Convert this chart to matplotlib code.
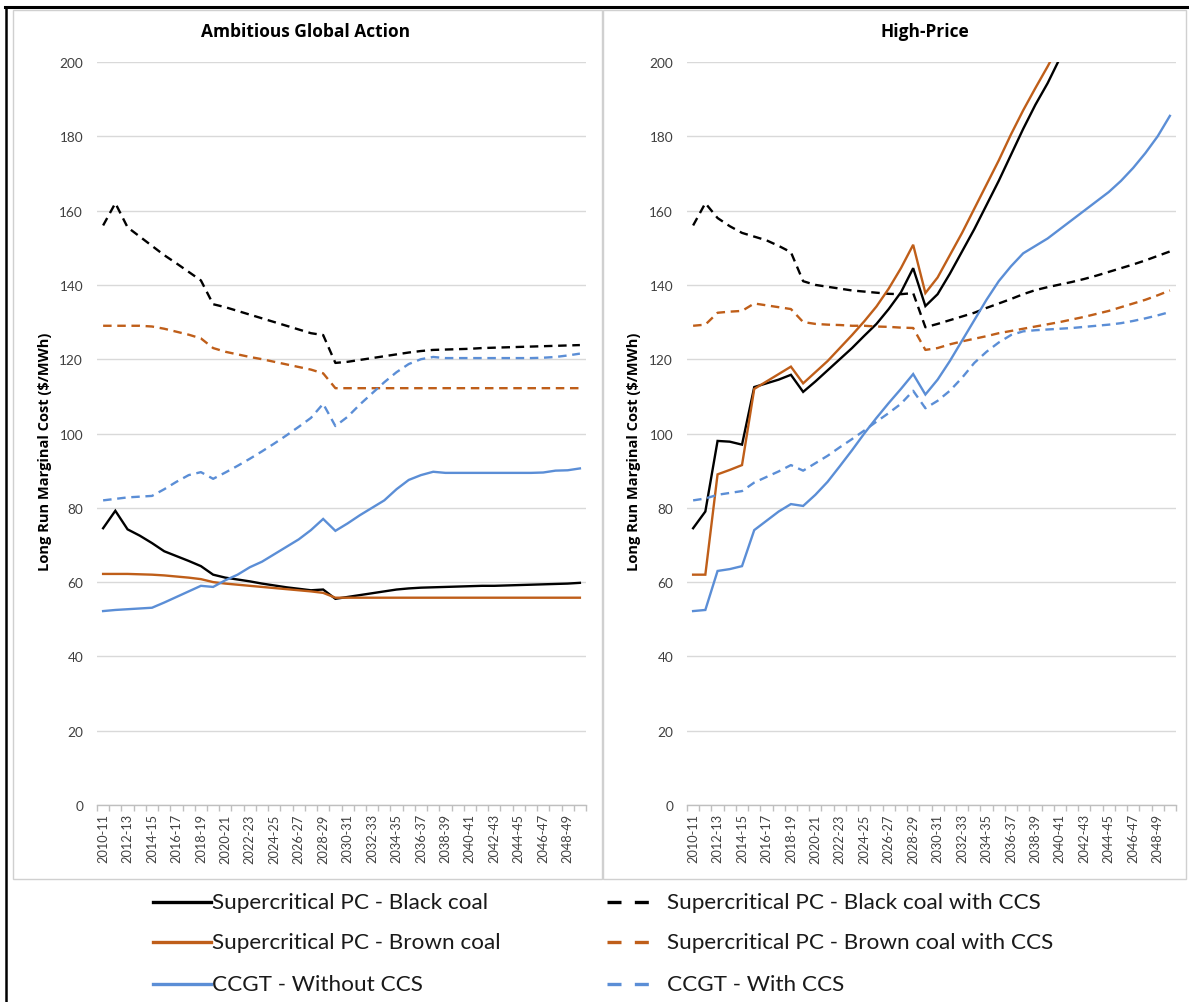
import matplotlib
matplotlib.use("Agg")
import matplotlib.pyplot as plt
from matplotlib.lines import Line2D
from matplotlib.patches import Rectangle
import numpy as np

plt.rcParams['font.family'] = ['Lato', 'DejaVu Sans']

# Financial years on the category axis
years = [f"{y}-{(y + 1) % 100:02d}" for y in range(2010, 2050)]
nan = np.nan

# ---- Ambitious Global Action scenario ($/MWh) ----
aga_black = [74.5, 79.2, 74.2, 72.5, 70.5, 68.3, 67.0, 65.7, 64.3, 62.0,
             61.2, 60.7, 60.2, 59.6, 59.1, 58.6, 58.2, 57.8, 58.0, 55.5,
             56.0, 56.5, 57.0, 57.5, 58.0, 58.3, 58.5, 58.6, 58.7, 58.8,
             58.9, 59.0, 59.0, 59.1, 59.2, 59.3, 59.4, 59.5, 59.6, 59.8]
aga_brown = [62.2, 62.2, 62.2, 62.1, 62.0, 61.8, 61.5, 61.2, 60.8, 60.0,
             59.6, 59.3, 59.0, 58.7, 58.4, 58.1, 57.8, 57.5, 57.1, 55.8,
             55.8, 55.8, 55.8, 55.8, 55.8, 55.8, 55.8, 55.8, 55.8, 55.8,
             55.8, 55.8, 55.8, 55.8, 55.8, 55.8, 55.8, 55.8, 55.8, 55.8]
aga_ccgt = [52.2, 52.5, 52.7, 52.9, 53.1, 54.5, 56.0, 57.5, 59.0, 58.7,
            60.5, 62.0, 64.0, 65.5, 67.5, 69.5, 71.5, 74.0, 77.0, 73.8,
            75.8, 78.0, 80.0, 82.0, 85.0, 87.5, 88.8, 89.7, 89.4, 89.4,
            89.4, 89.4, 89.4, 89.4, 89.4, 89.4, 89.5, 90.0, 90.1, 90.6]
aga_black_ccs = [156.0, 162.0, 155.5, 153.0, 150.5, 148.0, 145.8, 143.5, 141.2, 134.8,
                 134.0, 133.0, 132.0, 131.0, 130.0, 129.0, 128.0, 127.0, 126.5, 119.0,
                 119.3, 119.8, 120.3, 120.8, 121.3, 121.8, 122.2, 122.5, 122.6, 122.7,
                 122.8, 123.0, 123.1, 123.2, 123.3, 123.4, 123.5, 123.6, 123.7, 123.8]
aga_brown_ccs = [129.0, 129.0, 129.0, 129.0, 128.8, 128.2, 127.4, 126.6, 125.6, 123.0,
                 122.0, 121.3, 120.6, 120.0, 119.3, 118.6, 117.9, 117.2, 116.2, 112.2,
                 112.2, 112.2, 112.2, 112.2, 112.2, 112.2, 112.2, 112.2, 112.2, 112.2,
                 112.2, 112.2, 112.2, 112.2, 112.2, 112.2, 112.2, 112.2, 112.2, 112.2]
aga_ccgt_ccs = [82.0, 82.4, 82.8, 83.0, 83.2, 85.0, 87.0, 88.8, 89.6, 87.8,
                89.5, 91.3, 93.2, 95.2, 97.3, 99.5, 101.8, 104.2, 108.0, 102.0,
                104.5, 107.8, 110.8, 113.8, 116.5, 118.7, 120.0, 120.6, 120.3, 120.3,
                120.3, 120.3, 120.3, 120.3, 120.3, 120.3, 120.4, 120.6, 121.0, 121.5]

# ---- High-Price scenario ($/MWh); values above the 200 axis limit run off-chart ----
hp_black = [74.5, 79.0, 98.0, 97.8, 97.0, 112.5, 113.5, 114.5, 115.8, 111.2,
            114.0, 117.0, 120.0, 123.0, 126.3, 129.5, 133.5, 138.0, 144.5, 134.3,
            137.5, 143.0, 149.0, 155.0, 161.5, 168.0, 175.0, 182.0, 188.5, 194.3,
            201.0, nan, nan, nan, nan, nan, nan, nan, nan, nan]
hp_brown = [62.0, 62.0, 89.0, 90.2, 91.5, 112.0, 114.0, 116.0, 118.0, 113.5,
            116.5, 119.5, 123.0, 126.5, 130.2, 134.2, 139.0, 144.5, 150.8, 137.8,
            142.0, 148.0, 154.0, 160.5, 167.0, 173.5, 180.5, 187.0, 193.0, 198.8,
            205.0, nan, nan, nan, nan, nan, nan, nan, nan, nan]
hp_ccgt = [52.2, 52.5, 63.0, 63.5, 64.3, 74.0, 76.5, 79.0, 81.0, 80.5,
           83.5, 87.0, 91.2, 95.5, 100.0, 104.2, 108.2, 112.0, 116.0, 110.5,
           114.5, 119.5, 125.0, 130.5, 136.0, 141.0, 145.0, 148.5, 150.5, 152.5,
           155.0, 157.5, 160.0, 162.5, 165.0, 168.0, 171.5, 175.5, 180.0, 185.5]
hp_black_ccs = [156.0, 162.0, 158.0, 155.8, 154.0, 153.0, 152.0, 150.5, 148.8, 141.0,
                140.0, 139.5, 139.0, 138.5, 138.2, 137.9, 137.6, 137.5, 137.8, 128.6,
                129.5, 130.5, 131.5, 132.5, 133.8, 135.0, 136.2, 137.5, 138.6, 139.4,
                140.1, 140.8, 141.6, 142.5, 143.5, 144.5, 145.5, 146.6, 147.8, 149.0]
hp_brown_ccs = [129.0, 129.3, 132.5, 132.8, 133.0, 135.0, 134.5, 134.0, 133.5, 130.0,
                129.5, 129.3, 129.2, 129.0, 129.0, 128.8, 128.7, 128.5, 128.4, 122.5,
                123.0, 124.0, 124.8, 125.5, 126.2, 127.0, 127.6, 128.2, 128.8, 129.4,
                130.0, 130.7, 131.4, 132.2, 133.0, 134.0, 135.0, 136.0, 137.2, 138.5]
hp_ccgt_ccs = [82.0, 82.5, 83.5, 84.0, 84.5, 86.8, 88.3, 89.8, 91.5, 90.0,
               92.0, 94.0, 96.3, 98.5, 100.8, 103.2, 105.5, 108.0, 111.5, 106.8,
               108.8, 111.5, 115.0, 119.0, 122.0, 124.5, 126.5, 127.5, 127.8, 128.0,
               128.2, 128.4, 128.7, 129.0, 129.3, 129.7, 130.3, 131.0, 131.8, 132.7]

series_names = ["Supercritical PC - Black coal",
                "Supercritical PC - Black coal with CCS",
                "Supercritical PC - Brown coal",
                "Supercritical PC - Brown coal with CCS",
                "CCGT - Without CCS",
                "CCGT - With CCS"]

BLACK = "#000000"
BROWN = "#BF5E19"
BLUE = "#5B8ED6"
DASH = (3.6, 2.4)
HEAD_FONT = ["Open Sans", "DejaVu Sans"]

W, H = 1189, 1003
fig = plt.figure(figsize=(W / 100, H / 100), dpi=100)
fig.patch.set_facecolor("white")


def fx(px):
    return px / W


def fy(py):
    return 1 - py / H


def axes_px(x0, x1, y0, y1):
    return fig.add_axes([fx(x0), fy(y1), (x1 - x0) / W, (y1 - y0) / H])


# panel frames and outer border
for x0, x1 in [(13, 602), (603, 1186)]:
    fig.patches.append(Rectangle((fx(x0), fy(880)), (x1 - x0) / W, (880 - 11) / H,
                                 transform=fig.transFigure, fill=False,
                                 edgecolor="#D0D0D0", lw=1.0, zorder=0))
fig.lines.append(Line2D([fx(5), 1.0], [fy(8), fy(8)], transform=fig.transFigure,
                        color="black", lw=2.2))
fig.lines.append(Line2D([fx(6), fx(6)], [fy(8), 0.0], transform=fig.transFigure,
                        color="black", lw=1.8))

panels = [
    ("Ambitious Global Action", (97, 586), 306, 45,
     aga_black, aga_black_ccs, aga_brown, aga_brown_ccs, aga_ccgt, aga_ccgt_ccs),
    ("High-Price", (687, 1176), 925, 634,
     hp_black, hp_black_ccs, hp_brown, hp_brown_ccs, hp_ccgt, hp_ccgt_ccs),
]

x = np.arange(len(years))
styles = [(BLACK, "-"), (BLACK, "--"), (BROWN, "-"), (BROWN, "--"), (BLUE, "-"), (BLUE, "--")]

for title, (x0, x1), tx, ylx, *data in panels:
    ax = axes_px(x0, x1, 63, 806)
    ax.set_xlim(-0.5, len(years) - 0.5)
    ax.set_ylim(0, 200)
    ax.set_yticks(range(0, 201, 20))
    ax.grid(axis="y", color="#D9D9D9", lw=1.0)
    ax.set_axisbelow(True)
    for s in ["top", "right", "left"]:
        ax.spines[s].set_visible(False)
    ax.spines["bottom"].set_color("#BFBFBF")
    ax.spines["bottom"].set_linewidth(1.0)

    ax.set_xticks(x[::2])
    ax.set_xticklabels(years[::2], rotation=90, fontsize=9.2, color="#404040")
    ax.set_xticks(np.arange(-0.5, len(years), 1.0), minor=True)
    ax.tick_params(axis="x", which="major", length=0, pad=6)
    ax.tick_params(axis="x", which="minor", length=4, color="#BFBFBF", width=1)
    ax.tick_params(axis="y", length=0, pad=10, labelsize=9.8, labelcolor="#404040")

    for vals, (col, ls) in zip(data, styles):
        if ls == "-":
            ax.plot(x, vals, color=col, lw=1.7, solid_joinstyle="miter")
        else:
            ax.plot(x, vals, color=col, lw=1.7, dashes=DASH)

    fig.text(fx(tx), fy(32), title, ha="center", va="center", family=HEAD_FONT,
             fontsize=12.5, fontweight="bold", color="black")
    fig.text(fx(ylx), fy(452), "Long Run Marginal Cost ($/MWh)", rotation=90,
             ha="center", va="center", family=HEAD_FONT,
             fontsize=10.5, fontweight="bold", color="black")

# legend, two columns by three rows
rows_y = [903, 943, 985]
for k, name in enumerate(series_names):
    col, ls = styles[k]
    r, c = k // 2, k % 2
    yy = fy(rows_y[r])
    if c == 0:
        fig.lines.append(Line2D([fx(153), fx(211)], [yy, yy], transform=fig.transFigure,
                                color=col, lw=2.4))
        fig.text(fx(212), yy, name, ha="left", va="center", fontsize=16.2, color="#1a1a1a")
    else:
        fig.lines.append(Line2D([fx(607), fx(655)], [yy, yy], transform=fig.transFigure,
                                color=col, lw=2.4, dashes=(4.2, 4.0)))
        fig.text(fx(667), yy, name, ha="left", va="center", fontsize=16.2, color="#1a1a1a")

fig.savefig("out.png", dpi=100)
